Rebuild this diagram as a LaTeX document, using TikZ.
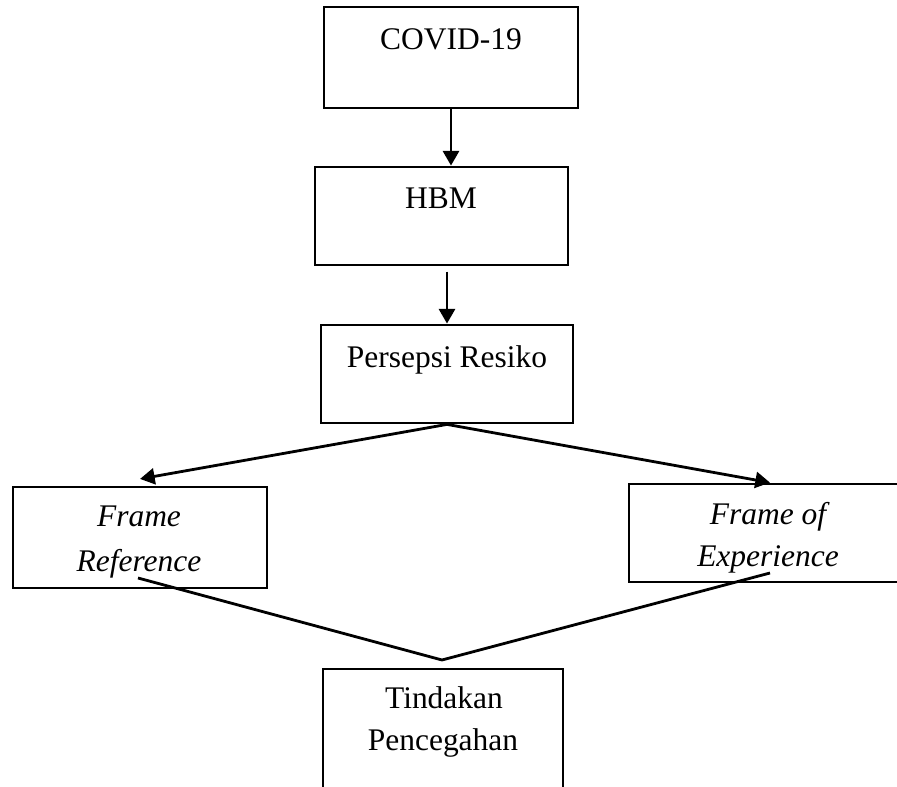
\documentclass[tikz,border=0pt]{standalone}
\usepackage{fontspec}
\setmainfont{Liberation Serif}
\usetikzlibrary{arrows.meta}
\begin{document}
\begin{tikzpicture}[x=0.75pt,y=-0.75pt,
  box/.style={draw,line width=2.1pt,inner sep=0pt},
  lbl/.style={anchor=base,inner sep=0pt,font=\fontsize{23.6}{28}\selectfont},
  arr/.style={line width=2.1pt,-{Triangle[length=11pt,width=12pt]}},
  ln/.style={line width=2.1pt}]
\useasboundingbox (0,0) rectangle (897,787);
\clip (0,0) rectangle (897,787);
% boxes
\node[box,minimum width=190.5pt,minimum height=75.75pt] (c) at (451,57.5) {};
\node[box,minimum width=189.75pt,minimum height=73.5pt] (h) at (441.5,216) {};
\node[box,minimum width=189pt,minimum height=73.5pt] (p) at (447,374) {};
\node[box,minimum width=190.5pt,minimum height=75.75pt] (fr) at (140,537.5) {};
\node[box,minimum width=211.5pt,minimum height=73.5pt] (fe) at (770,533) {};
\node[box,minimum width=180pt,minimum height=105pt] (t) at (443,739) {};
% texts
\node[lbl] (tc) at (451,50) {COVID-19};
\node[lbl] (th) at (441,209) {HBM};
\node[lbl] (tp) at (447,368) {Persepsi Resiko};
\node[lbl] (tfr1) at (139,527) {\itshape Frame};
\node[lbl] (tfr2) at (139,572) {\itshape Reference};
\node[lbl] (tfe1) at (768,525) {\itshape Frame of};
\node[lbl] (tfe2) at (768,567) {\itshape Experience};
\node[lbl] (tt1) at (444,709) {Tindakan};
\node[lbl] (tt2) at (443,751) {Pencegahan};
% connectors
\draw[arr] (c.south) -- (c.south |- h.north);
\draw[arr] ([yshift=-4pt]h.south -| p.north) -- (p.north);
\draw[arr] (p.south) -- ([yshift=5pt]fr.north);
\draw[arr] (p.south) -- (fe.north);
\coordinate (frl) at (138,578);
\coordinate (fel) at (770,573);
\coordinate (apex) at (442,660);
\draw[ln] (frl) -- (apex) -- (fel);
\end{tikzpicture}
\end{document}
